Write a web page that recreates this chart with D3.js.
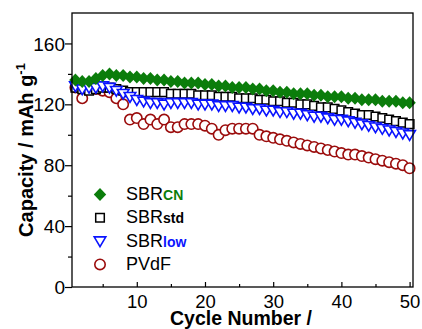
<!DOCTYPE html>
<html>
<head>
<meta charset="utf-8">
<script src="https://cdn.jsdelivr.net/npm/d3@7"></script>
<style>
  html, body { margin: 0; padding: 0; background: #fff; }
  svg { display: block; font-family: "Liberation Sans", Arial, sans-serif; }
</style>
</head>
<body>
<svg id="chart" width="422" height="329"></svg>
<script>
// ---- data ----
const cycles = d3.range(1, 51);
const sbrCN = [136,135,135,137,139,140,139,139,138,138,137,137,136,136,135,135,134,134,134,133,
               133,132,132,131,131,131,130,130,129,129,128,128,127,127,127,126,126,125,125,125,
               124,124,123,123,123,122,122,122,121,121];
const sbrStd = [131,130,129,130,131,131,130,129,128,128,128,128,128,128,127,127,127,127,126,126,
                126,125,125,125,124,124,124,123,123,122,122,121,121,120,120,119,118,118,117,116,
                115,114,113,113,112,111,110,109,108,107];
const sbrLow = [132,130,131,131,132,131,129,127,125,123,122,121,121,120,121,121,121,121,120,120,
                120,119,119,119,118,118,117,117,116,116,115,115,114,114,113,112,112,111,110,110,
                109,108,107,106,105,104,103,102,101,100];
const pvdf = [131,124,130,130,129,128,124,120,110,111,107,110,107,110,105,105,107,107,107,106,
              104,100,103,104,104,104,104,100,99,98,97,96,95,94,93,92,91,90,89,88,
              87,87,86,85,84,83,82,81,80,78];
const xMajorTicks = [10, 20, 30, 40, 50];
const xMinorTicks = [5, 15, 25, 35, 45];
const yMajorTicks = [0, 40, 80, 120, 160];
const yMinorTicks = [20, 60, 100, 140];
const legendLabels = [["SBR", "CN"], ["SBR", "std"], ["SBR", "low"], ["PVdF", ""]];

// ---- layout ----
const L = 72, R = 413, T = 13, B = 287;
const svg = d3.select("#chart");
const x = d3.scaleLinear().domain([0.5, 50.5]).range([L, R]);
const y = d3.scaleLinear().domain([0, 180]).range([B, T]);

const cGreen = "#0b7d0b", cBlue = "#0a14ff", cRed = "#9b0c0c", cBlack = "#000";

// marker shape generators (path strings centred on 0,0)
const shapes = {
  diamond: "M0,-6.5L6.2,0L0,6.5L-6.2,0Z",
  square: "M-4.3,-4.3H4.3V4.3H-4.3Z",
  tri: "M-5.8,-4.2L5.8,-4.2L0,5.6Z",
  circle: d3.symbol().type(d3.symbolCircle).size(Math.PI * 5.2 * 5.2)()
};

const series = [
  { vals: pvdf, shape: "circle", fill: "#fff", stroke: cRed, sw: 1.6 },
  { vals: sbrStd, shape: "square", fill: "#fff", stroke: cBlack, sw: 1.5 },
  { vals: sbrLow, shape: "tri", fill: "#fff", stroke: cBlue, sw: 1.6 },
  { vals: sbrCN, shape: "diamond", fill: cGreen, stroke: "none", sw: 0 }
];

const plot = svg.append("g");
series.forEach(s => {
  plot.append("g").selectAll("path")
    .data(cycles.map((c, i) => [c, s.vals[i]]))
    .join("path")
    .attr("d", shapes[s.shape])
    .attr("transform", d => `translate(${x(d[0])},${y(d[1])})`)
    .attr("fill", s.fill)
    .attr("stroke", s.stroke)
    .attr("stroke-width", s.sw);
});

// ---- axes ----
const xAxis = d3.axisBottom(x).tickValues(xMajorTicks).tickSizeInner(-5).tickSizeOuter(0).tickPadding(0);
const gx = svg.append("g").attr("transform", `translate(0,${B})`).call(xAxis);
gx.select(".domain").remove();
gx.selectAll(".tick text").attr("y", 21).attr("dy", 0).attr("font-size", 18.5)
  .attr("font-family", "Liberation Sans, Arial, sans-serif").attr("fill", "#000");
gx.selectAll(".tick line").attr("stroke-width", 1.2);
const gxm = svg.append("g").attr("transform", `translate(0,${B})`)
  .call(d3.axisBottom(x).tickValues(xMinorTicks).tickSizeInner(-3).tickSizeOuter(0).tickFormat(""));
gxm.select(".domain").remove();
gxm.selectAll(".tick line").attr("stroke-width", 1.2);

const yAxis = d3.axisLeft(y).tickValues(yMajorTicks).tickSizeInner(7).tickSizeOuter(0).tickPadding(0);
const gy = svg.append("g").attr("transform", `translate(${L},0)`).call(yAxis);
gy.select(".domain").remove();
gy.selectAll(".tick text").attr("x", -7).attr("dy", "0.35em").attr("font-size", 19)
  .attr("font-family", "Liberation Sans, Arial, sans-serif").attr("fill", "#000");
gy.selectAll(".tick line").attr("stroke-width", 1.2);
const gym = svg.append("g").attr("transform", `translate(${L},0)`)
  .call(d3.axisLeft(y).tickValues(yMinorTicks).tickSizeInner(4).tickSizeOuter(0).tickFormat(""));
gym.select(".domain").remove();
gym.selectAll(".tick line").attr("stroke-width", 1.2);

// frame
svg.append("rect").attr("x", L).attr("y", T).attr("width", R - L).attr("height", B - T)
  .attr("fill", "none").attr("stroke", "#000").attr("stroke-width", 1.3);

// ---- axis titles ----
const yt = svg.append("text")
  .attr("transform", `translate(33,${(T + B) / 2}) rotate(-90)`)
  .attr("text-anchor", "middle").attr("font-size", 20).attr("font-weight", "bold");
yt.append("tspan").text("Capacity / mAh g");
yt.append("tspan").attr("font-size", 13).attr("dy", -8).text("-1");

svg.append("text").attr("x", 241).attr("y", 325).attr("text-anchor", "middle")
  .attr("font-size", 19.5).attr("font-weight", "bold").text("Cycle Number /");

// ---- legend ----
const legendSeries = [series[3], series[1], series[2], series[0]];
const legendColors = [cGreen, cBlack, cBlue, cRed];
const lg = svg.append("g");
legendSeries.forEach((s, i) => {
  const base = 200 + i * 23.3;
  lg.append("path").attr("d", shapes[s.shape])
    .attr("transform", `translate(100,${base - 5.5})`)
    .attr("fill", s.fill).attr("stroke", s.stroke).attr("stroke-width", s.sw);
  const t = lg.append("text").attr("x", 126).attr("y", base).attr("font-size", 18);
  t.append("tspan").text(legendLabels[i][0]);
  if (legendLabels[i][1]) {
    t.append("tspan").attr("font-size", 14).attr("font-weight", "bold")
      .attr("fill", legendColors[i]).text(legendLabels[i][1]);
  }
});
</script>
</body>
</html>
